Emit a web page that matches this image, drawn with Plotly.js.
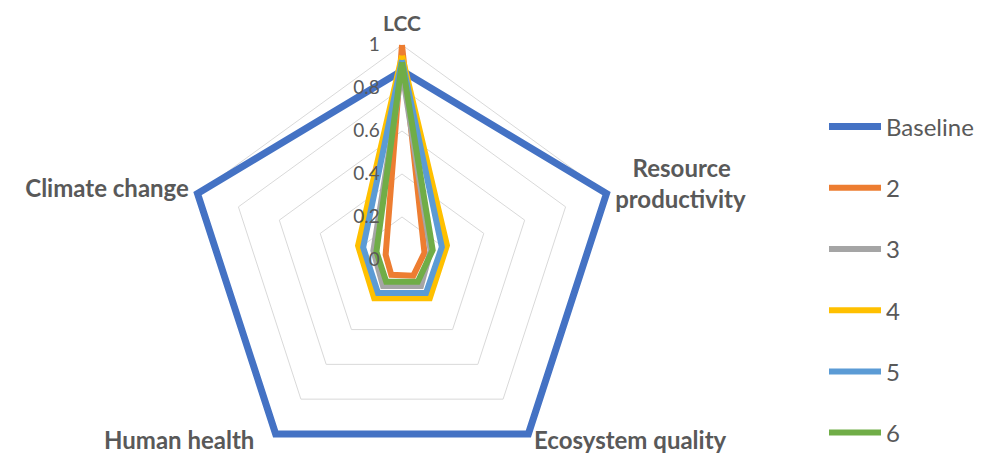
<!DOCTYPE html>
<html>
<head>
<meta charset="utf-8">
<script src="https://cdn.plot.ly/plotly-3.0.1.min.js"></script>
<style>
html,body{margin:0;padding:0;overflow:hidden;background:#fff;}
#chart{width:981px;height:500px;}
</style>
</head>
<body>
<div id="chart"></div>
<script>
// Axes (clockwise from top)
var categories = ["LCC", "Resource productivity", "Ecosystem quality", "Human health", "Climate change"];
var categoryLabels = [
  "<span style='font-size:21px'>LCC</span>",
  "&nbsp;&nbsp;&nbsp;Resource<br>productivity",
  "",
  "",
  "Climate change"
];
var bottomLabels = ["Ecosystem quality", "Human health"];
var seriesNames = ["Baseline", "2", "3", "4", "5", "6"];
// Values per series, in the order of categories
var baseline = [0.88, 1.0, 1.0, 1.0, 1.0];
var s2 = [1.0, 0.11, 0.09, 0.085, 0.08];
var s3 = [0.88, 0.14, 0.15, 0.15, 0.14];
var s4 = [0.95, 0.22, 0.22, 0.22, 0.215];
var s5 = [0.93, 0.195, 0.19, 0.19, 0.19];
var s6 = [0.92, 0.15, 0.125, 0.125, 0.125];
var radialTicks = [0, 0.2, 0.4, 0.6, 0.8, 1];
var radialTickText = ["0", "0.2", "0.4", "0.6", "0.8", "1"];

var allValues = [baseline, s2, s3, s4, s5, s6];
var colors = ["#4472C4", "#ED7D31", "#A5A5A5", "#FFC000", "#5B9BD5", "#70AD47"];
var widths = [7, 6, 6, 6, 6, 6];

function closeLoop(a){ return a.concat([a[0]]); }

var traces = allValues.map(function(v, i){
  return {
    type: "scatterpolar",
    mode: "lines",
    r: closeLoop(v),
    theta: closeLoop(categories),
    name: seriesNames[i],
    legendgroup: "g" + i,
    line: {color: colors[i], width: widths[i]},
    hoverinfo: "skip"
  };
});

var W = 981, H = 500;
var CX = 402, CY = 260, RMAX = 1.04, R1 = 215;
var rad = R1 * RMAX;
var fontFam = "Lato, 'Open Sans', sans-serif";
// lower vertices of the value-1 pentagon (for the two bottom axis labels)
var lowDX = R1 * Math.cos(54 * Math.PI / 180);
var lowDY = R1 * Math.sin(54 * Math.PI / 180);

var layout = {
  width: W,
  height: H,
  margin: {l: 0, r: 0, t: 0, b: 0},
  paper_bgcolor: "#ffffff",
  plot_bgcolor: "#ffffff",
  font: {family: fontFam, color: "#595959"},
  showlegend: true,
  legend: {
    x: 824 / W, xanchor: "left",
    y: 1 - 104.5 / H, yanchor: "top",
    font: {size: 24, color: "#595959", family: fontFam},
    tracegroupgap: 27,
    itemwidth: 52,
    bgcolor: "rgba(0,0,0,0)"
  },
  annotations: [
    {text: bottomLabels[0], xref: "paper", yref: "paper", showarrow: false,
     x: (CX + lowDX + 4) / W, y: 1 - (CY + lowDY + 6) / H, xanchor: "left", yanchor: "middle",
     font: {size: 24, color: "#595959", family: fontFam, weight: "bold"}},
    {text: bottomLabels[1], xref: "paper", yref: "paper", showarrow: false,
     x: (CX - lowDX - 20) / W, y: 1 - (CY + lowDY + 6) / H, xanchor: "right", yanchor: "middle",
     font: {size: 24, color: "#595959", family: fontFam, weight: "bold"}}
  ],
  polar: {
    domain: {x: [(CX - rad) / W, (CX + rad) / W], y: [(H - (CY + rad)) / H, (H - (CY - rad)) / H]},
    gridshape: "linear",
    bgcolor: "#ffffff",
    radialaxis: {
      range: [0, RMAX],
      tickvals: radialTicks,
      ticktext: radialTickText,
      angle: 90,
      side: "counterclockwise",
      showline: false,
      showgrid: true,
      gridcolor: "#d9d9d9",
      gridwidth: 1,
      ticks: "outside",
      ticklen: 15,
      tickcolor: "rgba(0,0,0,0)",
      tickfont: {size: 19, color: "#595959", family: fontFam},
      tickangle: 90
    },
    angularaxis: {
      direction: "clockwise",
      rotation: 90,
      tickvals: categories,
      ticktext: categoryLabels,
      showgrid: false,
      showline: false,
      ticks: "",
      tickfont: {size: 24, color: "#595959", family: fontFam, weight: "bold"}
    }
  }
};

Plotly.newPlot("chart", traces, layout, {displayModeBar: false, staticPlot: true});
</script>
</body>
</html>
